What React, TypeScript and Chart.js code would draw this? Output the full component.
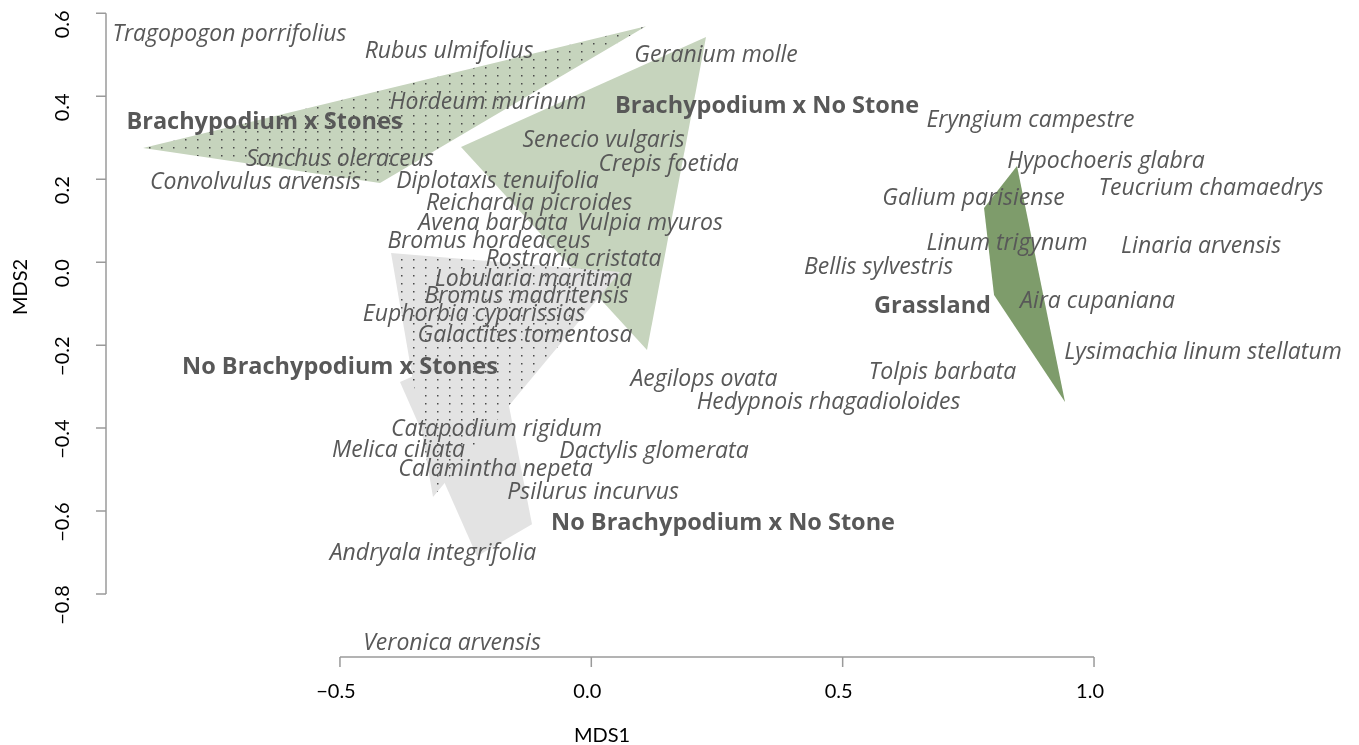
import React, { useEffect, useRef } from "react";
import { Chart, registerables } from "chart.js";

Chart.register(...registerables);

const W = 1359;
const H = 745;

// ---- Species scores (label centres in MDS space) ----
const speciesNames = [
  "Tragopogon porrifolius", "Rubus ulmifolius", "Hordeum murinum", "Sonchus oleraceus",
  "Convolvulus arvensis", "Geranium molle", "Senecio vulgaris", "Crepis foetida",
  "Diplotaxis tenuifolia", "Reichardia picroides", "Avena barbata", "Vulpia myuros",
  "Bromus hordeaceus", "Rostraria cristata", "Lobularia maritima", "Bromus madritensis",
  "Euphorbia cyparissias", "Galactites tomentosa", "Aegilops ovata", "Hedypnois rhagadioloides",
  "Catapodium rigidum", "Melica ciliata", "Dactylis glomerata", "Calamintha nepeta",
  "Psilurus incurvus", "Andryala integrifolia", "Veronica arvensis", "Eryngium campestre",
  "Hypochoeris glabra", "Teucrium chamaedrys", "Galium parisiense", "Linum trigynum",
  "Linaria arvensis", "Bellis sylvestris", "Aira cupaniana", "Lysimachia linum stellatum",
  "Tolpis barbata",
];
const speciesMDS1 = [
  -0.7197, -0.2831, -0.2055, -0.4999, -0.6680, 0.2481, 0.0243, 0.1536,
  -0.1866, -0.1239, -0.1955, 0.1168, -0.2035, -0.0354, -0.1150, -0.1289,
  -0.2333, -0.1319, 0.2242, 0.4718, -0.1886, -0.3835, 0.1247, -0.1906,
  0.0034, -0.3149, -0.2771, 0.8737, 1.0239, 1.2327, 0.7603, 0.8269,
  1.2129, 0.5713, 1.0070, 1.2168, 0.6986,
];
const speciesMDS2 = [
  0.5538, 0.5128, 0.3886, 0.2512, 0.1970, 0.5043, 0.2970, 0.2404,
  0.1982, 0.1475, 0.0993, 0.0993, 0.0559, 0.0113, -0.0369, -0.0767,
  -0.1213, -0.1731, -0.2768, -0.3346, -0.3997, -0.4503, -0.4527, -0.4961,
  -0.5492, -0.6974, -0.9144, 0.3476, 0.2476, 0.1825, 0.1584, 0.0499,
  0.0415, -0.0068, -0.0911, -0.2117, -0.2611,
];

// ---- Group (treatment) labels ----
const groupNames = [
  "Brachypodium x Stones", "Brachypodium x No Stone", "No Brachypodium x Stones",
  "No Brachypodium x No Stone", "Grassland",
];
const groupMDS1 = [-0.6502, 0.3495, -0.4999, 0.2620, 0.6787];
const groupMDS2 = [0.3404, 0.3790, -0.2502, -0.6251, -0.1008];

// ---- Convex hull vertices per group ----
const hullBrachyStonesX = [-0.8918, 0.1088, -0.4203];
const hullBrachyStonesY = [0.2753, 0.5690, 0.1909];
const hullBrachyNoStoneX = [0.2282, -0.2592, 0.1108];
const hullBrachyNoStoneY = [0.5429, 0.2777, -0.2117];
const hullNoBrachyStonesX = [-0.3984, 0.0571, -0.3149];
const hullNoBrachyStonesY = [0.0222, -0.0236, -0.5661];
const hullNoBrachyNoStoneX = [-0.3806, -0.1893, -0.1180, -0.2274];
const hullNoBrachyNoStoneY = [-0.2888, -0.1875, -0.6319, -0.7091];
const hullGrasslandX = [0.8468, 0.7812, 0.8011, 0.9423];
const hullGrasslandY = [0.2319, 0.1307, -0.0791, -0.3370];

// ---- Axes ----
const xTicks = [-0.5, 0, 0.5, 1.0];
const xTickLabels = ["\u22120.5", "0.0", "0.5", "1.0"];
const yTicks = [-0.8, -0.6, -0.4, -0.2, 0, 0.2, 0.4, 0.6];
const yTickLabels = ["\u22120.8", "\u22120.6", "\u22120.4", "\u22120.2", "0.0", "0.2", "0.4", "0.6"];

const LIGHT_GREEN = "#c6d4bd";
const DARK_GREEN = "#7e9c6b";
const LIGHT_GRAY = "#e3e3e3";
const TEXT_GRAY = "#585858";
const AXIS_GRAY = "#9a9a9a";
const LABEL_FONT = "'Open Sans', sans-serif";
const AXIS_FONT = "Lato, sans-serif";

function makeDotPattern(bg: string): CanvasPattern | string {
  const c = document.createElement("canvas");
  c.width = 12;
  c.height = 8;
  const g = c.getContext("2d");
  if (!g) return bg;
  g.fillStyle = bg;
  g.fillRect(0, 0, 12, 8);
  g.fillStyle = "#4a4a4a";
  g.fillRect(5, 3, 1.5, 1.5);
  const p = g.createPattern(c, "repeat");
  return p || bg;
}

function hull(xs: number[], ys: number[]) {
  const pts = xs.map((x, i) => ({ x, y: ys[i] }));
  pts.push({ x: xs[0], y: ys[0] });
  return pts;
}

const labelsPlugin = {
  id: "labels",
  afterDatasetsDraw(chart: any) {
    const { ctx, scales } = chart;
    const sx = scales.x;
    const sy = scales.y;
    ctx.save();
    ctx.textAlign = "center";
    ctx.textBaseline = "alphabetic";
    ctx.fillStyle = TEXT_GRAY;
    ctx.font = `italic 23px ${LABEL_FONT}`;
    let cap = ctx.measureText("H").actualBoundingBoxAscent || 16;
    speciesNames.forEach((n, i) => {
      ctx.fillText(n, sx.getPixelForValue(speciesMDS1[i]), sy.getPixelForValue(speciesMDS2[i]) + cap / 2);
    });
    ctx.font = `bold 23.5px ${LABEL_FONT}`;
    cap = ctx.measureText("H").actualBoundingBoxAscent || 17;
    groupNames.forEach((n, i) => {
      ctx.fillText(n, sx.getPixelForValue(groupMDS1[i]), sy.getPixelForValue(groupMDS2[i]) + cap / 2);
    });
    ctx.restore();
  },
};

const axesPlugin = {
  id: "rAxes",
  afterDraw(chart: any) {
    const { ctx, scales, chartArea } = chart;
    const sx = scales.x;
    const sy = scales.y;
    const tick = 10;
    ctx.save();
    ctx.strokeStyle = AXIS_GRAY;
    ctx.lineWidth = 1.5;
    // x axis
    const yb = chartArea.bottom;
    ctx.beginPath();
    ctx.moveTo(sx.getPixelForValue(xTicks[0]), yb);
    ctx.lineTo(sx.getPixelForValue(xTicks[xTicks.length - 1]), yb);
    xTicks.forEach((t) => {
      const px = sx.getPixelForValue(t);
      ctx.moveTo(px, yb);
      ctx.lineTo(px, yb + tick);
    });
    // y axis
    const xl = chartArea.left;
    ctx.moveTo(xl, sy.getPixelForValue(yTicks[0]));
    ctx.lineTo(xl, sy.getPixelForValue(yTicks[yTicks.length - 1]));
    yTicks.forEach((t) => {
      const py = sy.getPixelForValue(t);
      ctx.moveTo(xl, py);
      ctx.lineTo(xl - tick, py);
    });
    ctx.stroke();

    ctx.fillStyle = "#000";
    ctx.font = `20px ${AXIS_FONT}`;
    ctx.textAlign = "center";
    ctx.textBaseline = "middle";
    xTicks.forEach((t, i) => {
      ctx.fillText(xTickLabels[i], sx.getPixelForValue(t) - 4, yb + 35);
    });
    yTicks.forEach((t, i) => {
      ctx.save();
      ctx.translate(xl - 43, sy.getPixelForValue(t) + 11);
      ctx.rotate(-Math.PI / 2);
      ctx.fillText(yTickLabels[i], 0, 0);
      ctx.restore();
    });
    // axis titles
    ctx.fillText("MDS1", 602, 736);
    ctx.save();
    ctx.translate(21, 287);
    ctx.rotate(-Math.PI / 2);
    ctx.fillText("MDS2", 0, 0);
    ctx.restore();
    ctx.restore();
  },
};

export default function App() {
  const ref = useRef<HTMLCanvasElement | null>(null);
  useEffect(() => {
    const canvas = ref.current;
    if (!canvas) return;
    document.body.style.margin = "0";
    const dotGreen = makeDotPattern(LIGHT_GREEN);
    const dotGray = makeDotPattern(LIGHT_GRAY);
    const poly = (label: string, xs: number[], ys: number[], bg: any, order: number) => ({
      label,
      data: hull(xs, ys),
      showLine: true,
      fill: "shape",
      backgroundColor: bg,
      borderColor: "rgba(0,0,0,0)",
      borderWidth: 0,
      pointRadius: 0,
      pointHoverRadius: 0,
      tension: 0,
      order,
      clip: false,
    });
    const chart = new Chart(canvas, {
      type: "line",
      data: {
        datasets: [
          poly("Brachypodium x No Stone", hullBrachyNoStoneX, hullBrachyNoStoneY, LIGHT_GREEN, 5),
          poly("Brachypodium x Stones", hullBrachyStonesX, hullBrachyStonesY, dotGreen, 4),
          poly("Grassland", hullGrasslandX, hullGrasslandY, DARK_GREEN, 3),
          poly("No Brachypodium x No Stone", hullNoBrachyNoStoneX, hullNoBrachyNoStoneY, LIGHT_GRAY, 2),
          poly("No Brachypodium x Stones", hullNoBrachyStonesX, hullNoBrachyStonesY, dotGray, 1),
        ] as any,
      },
      options: {
        responsive: false,
        animation: false,
        events: [],
        layout: { padding: { left: 106, right: 9, top: 8, bottom: 88 } },
        scales: {
          x: { type: "linear", min: -0.9654, max: 1.5092, display: false },
          y: { type: "linear", min: -0.9518, max: 0.6128, display: false },
        },
        plugins: {
          legend: { display: false },
          tooltip: { enabled: false },
          filler: { propagate: false },
        },
      } as any,
      plugins: [labelsPlugin, axesPlugin],
    });
    return () => chart.destroy();
  }, []);
  return (
    <div style={{ position: "absolute", left: 0, top: 0, width: W, height: H, background: "#fff" }}>
      <canvas ref={ref} width={W} height={H} style={{ display: "block" }} />
    </div>
  );
}
